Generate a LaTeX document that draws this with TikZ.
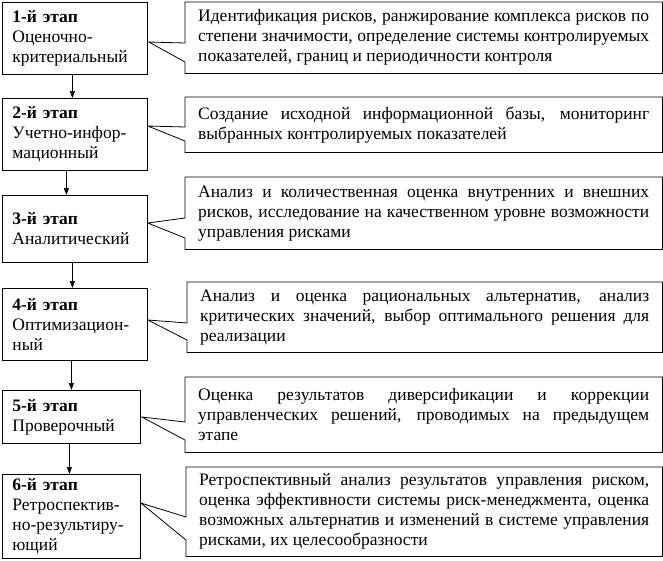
\documentclass[tikz,border=0pt]{standalone}
\usepackage{fontspec}
\setmainfont{Liberation Serif}
\usetikzlibrary{arrows.meta,calc,backgrounds}
\begin{document}
\begin{tikzpicture}[x=1pt,y=-1pt,
  font=\fontsize{17.5}{20}\selectfont,
  stage/.style={draw, line width=0.8pt, fill=white, align=left, inner xsep=10pt, inner ysep=0pt, anchor=north west},
  note/.style={align=justify, inner xsep=13pt, inner ysep=0pt, anchor=north west},
  outline/.style={draw, line width=0.8pt, fill=white, line join=miter},
  shade/.style={fill=black},
  arr/.style={-{Triangle[length=7pt,width=5pt]}, line width=0.6pt}
]
\useasboundingbox (0,0) rectangle (663,560);
\hyphenpenalty=10000 \exhyphenpenalty=10000 \tolerance=10000

% stage boxes (shadow first)
\fill[shade] (3,3) rectangle (148,75);
\fill[shade] (3,99) rectangle (148,171);
\fill[shade] (3,196) rectangle (148,263);
\fill[shade] (3,289) rectangle (148,361);
\fill[shade] (3,391) rectangle (141,444);
\fill[shade] (3,475) rectangle (141,559);

\node[stage, text width=125pt, minimum height=72pt] (b1) at (2,2) {\textbf{1-й этап}\\Оценочно-\\критериальный};
\node[stage, text width=125pt, minimum height=72pt] (b2) at (2,98) {\textbf{2-й этап}\\Учетно-инфор-\\мационный};
\node[stage, text width=125pt, minimum height=67pt] (b3) at (2,195) {\textbf{3-й этап}\\Аналитический};
\node[stage, text width=125pt, minimum height=72pt] (b4) at (2,288) {\textbf{4-й этап}\\Оптимизацион-\\ный};
\node[stage, text width=118pt, minimum height=53pt] (b5) at (2,390) {\textbf{5-й этап}\\Проверочный};
\node[stage, text width=118pt, minimum height=84pt] (b6) at (2,474) {\textbf{6-й этап}\\Ретроспектив-\\но-результиру-\\ющий};

% callout texts
\node[note, text width=451pt, minimum height=71pt] (c1) at (185,2) {Идентификация рисков, ранжирование комплекса рисков по\linebreak степени значимости, определение системы контролируемых\linebreak показателей, границ и периодичности контроля};
\node[note, text width=451pt, minimum height=55pt] (c2) at (185,97) {Создание исходной информационной базы, мониторинг\linebreak выбранных контролируемых показателей};
\node[note, text width=451pt, minimum height=72pt] (c3) at (185,177) {Анализ и количественная оценка внутренних и внешних\linebreak рисков, исследование на качественном уровне возможности\linebreak управления рисками};
\node[note, text width=449pt, minimum height=70pt] (c4) at (187,282) {Анализ и оценка рациональных альтернатив, анализ\linebreak критических значений, выбор оптимального решения для\linebreak реализации};
\node[note, text width=451pt, minimum height=75pt] (c5) at (185,377) {Оценка результатов диверсификации и коррекции\linebreak управленческих решений, проводимых на предыдущем\linebreak этапе};
\node[note, text width=450pt, minimum height=89pt] (c6) at (186,467) {Ретроспективный анализ результатов управления риском,\linebreak оценка эффективности системы риск-менеджмента, оценка\linebreak возможных альтернатив и изменений в системе управления\linebreak рисками, их целесообразности};

% pointer tips
\coordinate (t1) at ($(b1.north east)+(1,40)$);
\coordinate (t2) at ($(b2.north east)+(0,28)$);
\coordinate (t3) at ($(b3.north east)+(0,28)$);
\coordinate (t4) at ($(b4.north east)+(0,32)$);
\coordinate (t5) at ($(b5.north east)+(1,27)$);
\coordinate (t6) at ($(b6.north east)+(0,29)$);

\begin{scope}[on background layer]
  \foreach \c/\t/\a/\b in {c1/t1/41/60, c2/t2/30/44, c3/t3/41/61, c4/t4/41/58, c5/t5/45/63, c6/t6/50/73}{
    \fill[shade] ($(\c.north west)+(1,1)$) rectangle ($(\c.south east)+(1,1)$);
    \path[outline] (\c.north west) -- (\c.north east) -- (\c.south east) -- (\c.south west)
      -- ($(\c.north west)+(0,\b)$) -- (\t) -- ($(\c.north west)+(0,\a)$) -- cycle;
  }
\end{scope}

% arrows between stages
\draw[arr] ([xshift=-2.5pt]b1.south) -- ([xshift=-2.5pt]b1.south |- b2.north);
\draw[arr] ([xshift=-8.5pt]b2.south) -- ([xshift=-8.5pt]b2.south |- b3.north);
\draw[arr] ([xshift=-2.5pt]b3.south) -- ([xshift=-2.5pt]b3.south |- b4.north);
\draw[arr] ([xshift=-3.5pt]b4.south) -- ([xshift=-3.5pt]b4.south |- b5.north);
\draw[arr] ([xshift=-2pt]b5.south) -- ([xshift=-2pt]b5.south |- b6.north);
\end{tikzpicture}
\end{document}
